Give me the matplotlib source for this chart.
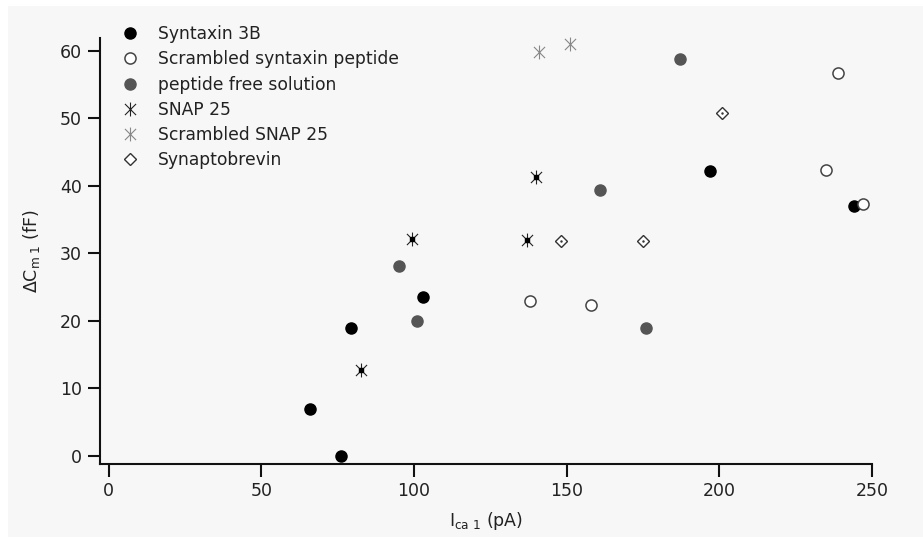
import matplotlib
matplotlib.use("Agg")
import matplotlib.pyplot as plt
from matplotlib.path import Path
from matplotlib.patches import Rectangle

plt.rcParams['font.family'] = ['DejaVu Sans']
plt.rcParams['mathtext.default'] = 'regular'

# data
syntaxin_x = [66, 76, 79.5, 103, 197, 244]
syntaxin_y = [7, 0, 19, 23.6, 42.2, 37]
scr_syntaxin_x = [138, 158, 235, 239, 247]
scr_syntaxin_y = [23, 22.4, 42.4, 56.7, 37.3]
free_x = [95, 101, 161, 176, 187]
free_y = [28.2, 20, 39.4, 19, 58.8]
snap_x = [82.6, 99.4, 137, 140]
snap_y = [12.7, 32.1, 32, 41.3]
scr_snap_x = [141, 151]
scr_snap_y = [59.9, 61]
syb_x = [148, 175, 201]
syb_y = [31.8, 31.8, 50.8]

# asterisk marker: vertical bar plus X
star = Path([(0, -1), (0, 1), (-0.8, -0.8), (0.8, 0.8), (-0.8, 0.8), (0.8, -0.8)],
            [Path.MOVETO, Path.LINETO, Path.MOVETO, Path.LINETO, Path.MOVETO, Path.LINETO])

fig = plt.figure(figsize=(9.23, 5.37), dpi=100)
fig.patch.set_facecolor('white')
fig.patches.append(Rectangle((8 / 923, 0), 1, 1 - 6 / 537, transform=fig.transFigure,
                             facecolor='#f7f7f7', edgecolor='none', zorder=-10))
ax = fig.add_axes([100 / 923, 1 - 464 / 537, 772 / 923, 426 / 537])
ax.patch.set_alpha(0)

kw = dict(linestyle='none', clip_on=False)
ax.plot(syntaxin_x, syntaxin_y, marker='o', ms=8, mfc='black', mec='black', label='Syntaxin 3B', **kw)
ax.plot(scr_syntaxin_x, scr_syntaxin_y, marker='o', ms=8, mfc='white', mec='#444444', mew=1.1,
        label='Scrambled syntaxin peptide', **kw)
ax.plot(free_x, free_y, marker='o', ms=8, mfc='#555555', mec='#555555', label='peptide free solution', **kw)
ax.plot(snap_x, snap_y, marker=star, ms=10, mec='#222222', mew=0.8, label='SNAP 25', **kw)
ax.plot(snap_x, snap_y, marker='s', ms=2.5, mfc='black', mec='black', **kw)
ax.plot(scr_snap_x, scr_snap_y, marker=star, ms=10, mec='#888888', mew=0.8, label='Scrambled SNAP 25', **kw)
ax.plot(syb_x, syb_y, marker='D', ms=6, mfc='white', mec='#333333', mew=1.0, label='Synaptobrevin', **kw)
ax.plot(syb_x, syb_y, marker='.', ms=1.5, color='#333333', **kw)

ax.set_xlim(-2.85, 250)
ax.set_ylim(-1.18, 61.9)
ax.set_xticks([0, 50, 100, 150, 200, 250])
ax.set_yticks([0, 10, 20, 30, 40, 50, 60])
for s in ['top', 'right']:
    ax.spines[s].set_visible(False)
for s in ['left', 'bottom']:
    ax.spines[s].set_linewidth(1.5)
    ax.spines[s].set_color('#111111')
ax.tick_params(direction='out', length=9, width=1.5, color='#111111', labelsize=12.5,
               labelcolor='#222222', pad=4)

ax.set_xlabel(r'I$_{\mathrm{ca\ 1}}$ (pA)', fontsize=12.5, color='#222222', labelpad=7)
ax.set_ylabel(r'$\Delta$C$_{\mathrm{m\ 1}}$ (fF)', fontsize=12.5, color='#222222', labelpad=13)

ax.legend(loc='upper left', bbox_to_anchor=(0.015, 1.05), frameon=False, fontsize=12.3,
          handlelength=1.2, handletextpad=1.0, labelspacing=0.42, borderpad=0,
          labelcolor='#222222')

fig.savefig('out.png', dpi=100, facecolor='white')
